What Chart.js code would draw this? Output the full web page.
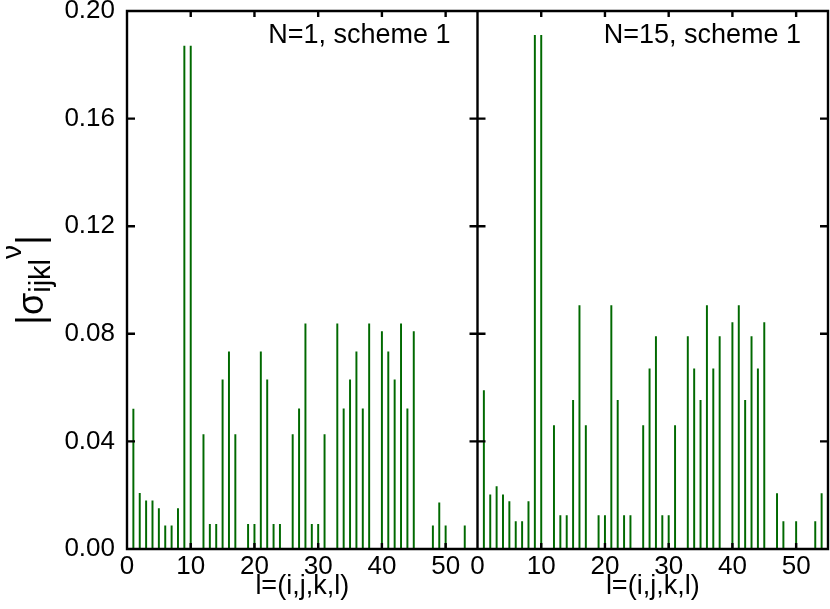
<!DOCTYPE html>
<html>
<head>
<meta charset="utf-8">
<script src="https://cdn.jsdelivr.net/npm/chart.js@4"></script>
<style>
  html, body { margin: 0; padding: 0; background: #fff; }
  canvas { display: block; }
</style>
</head>
<body>
<canvas id="chart" width="830" height="609"></canvas>
<script>
// |sigma_ijkl^nu| per index l=(i,j,k,l), two panels
const leftIdx = [1, 2, 3, 4, 5, 6, 7, 8, 9, 10, 12, 13, 14, 15, 16, 17, 19, 20, 21, 22, 23, 24,
  26, 27, 28, 29, 30, 31, 33, 34, 35, 36, 37, 38, 40, 41, 42, 43, 44, 45, 48, 49, 50, 53];
const leftVal = [0.052, 0.0207, 0.0179, 0.0179, 0.015, 0.0086, 0.0086, 0.015, 0.187, 0.187,
  0.0425, 0.0092, 0.0092, 0.0629, 0.0733, 0.0425,
  0.0092, 0.0092, 0.0733, 0.0629, 0.0092, 0.0092,
  0.0425, 0.0521, 0.0837, 0.0092, 0.0092, 0.0425,
  0.0837, 0.0521, 0.0629, 0.0733, 0.0521, 0.0837,
  0.0808, 0.0733, 0.0629, 0.0837, 0.0521, 0.0808,
  0.0086, 0.0172, 0.0086, 0.0086];

const rightIdx = [1, 2, 3, 4, 5, 6, 7, 8, 9, 10, 12, 13, 14, 15, 16, 17, 19, 20, 21, 22, 23, 24,
  26, 27, 28, 29, 30, 31, 33, 34, 35, 36, 37, 38, 40, 41, 42, 43, 44, 45, 47, 48, 50, 53, 54];
const rightVal = [0.0589, 0.0201, 0.0232, 0.0201, 0.0176, 0.0102, 0.0102, 0.0176, 0.191, 0.191,
  0.0459, 0.0124, 0.0124, 0.0553, 0.0905, 0.0459,
  0.0124, 0.0124, 0.0905, 0.0553, 0.0124, 0.0124,
  0.0459, 0.067, 0.079, 0.0124, 0.0124, 0.0459,
  0.079, 0.067, 0.0553, 0.0905, 0.067, 0.079,
  0.0842, 0.0905, 0.0553, 0.079, 0.067, 0.0842,
  0.0206, 0.0102, 0.0102, 0.0102, 0.0206];

const xTicks = [0, 10, 20, 30, 40, 50];
const yTicks = [0, 0.04, 0.08, 0.12, 0.16, 0.20];
const panelLabels = ["N=1, scheme 1", "N=15, scheme 1"];
const xTitle = "l=(i,j,k,l)";

const FONT = '"Liberation Sans", Arial, Helvetica, sans-serif';
const BAR = "rgb(0,105,0)";

function pairs(xs, ys) {
  return xs.map((x, i) => ({ x, y: ys[i] }));
}

// gnuplot-like box: border round both panels, ticks pointing inward on every side
const framePlugin = {
  id: "frame",
  afterDatasetsDraw(chart) {
    const { ctx, chartArea: a, scales } = chart;
    const xl = scales.xL, xr = scales.xR, y = scales.y;
    const mid = xl.right;
    ctx.save();
    ctx.strokeStyle = "#000";
    ctx.lineWidth = 2.4;
    ctx.beginPath();
    ctx.rect(a.left, a.top, a.right - a.left, a.bottom - a.top);
    ctx.moveTo(mid, a.top);
    ctx.lineTo(mid, a.bottom);
    yTicks.forEach((v) => {
      const py = y.getPixelForValue(v);
      ctx.moveTo(a.left, py); ctx.lineTo(a.left + 8, py);
      ctx.moveTo(mid - 8, py); ctx.lineTo(mid + 8, py);
      ctx.moveTo(a.right - 8, py); ctx.lineTo(a.right, py);
    });
    [xl, xr].forEach((s) => xTicks.forEach((v) => {
      const px = s.getPixelForValue(v);
      ctx.moveTo(px, a.bottom); ctx.lineTo(px, a.bottom - 6);
      ctx.moveTo(px, a.top); ctx.lineTo(px, a.top + 6);
    }));
    ctx.stroke();

    ctx.fillStyle = "#000";
    ctx.font = "27px " + FONT;
    ctx.textAlign = "right";
    ctx.textBaseline = "middle";
    [xl, xr].forEach((s, i) => ctx.fillText(panelLabels[i], s.right - 27, a.top + 25));
    ctx.restore();
  },
};

// rotated y title with sub- and superscript: |σ_ijkl^ν|
const yTitlePlugin = {
  id: "ytitle",
  afterDraw(chart) {
    const { ctx, chartArea: a } = chart;
    const parts = [
      { t: "|", size: 38, dy: 0 },
      { t: "σ", size: 36, dy: 0 },
      { t: "ijkl", size: 29, dy: 7 },
      { t: "ν", size: 28, dy: -22 },
      { t: "|", size: 38, dy: 0 },
    ];
    ctx.save();
    let total = 0;
    parts.forEach((p) => {
      ctx.font = p.size + "px " + FONT;
      p.w = ctx.measureText(p.t).width;
      total += p.w;
    });
    ctx.translate(43, (a.top + a.bottom) / 2);
    ctx.rotate(-Math.PI / 2);
    ctx.fillStyle = "#000";
    ctx.textAlign = "left";
    ctx.textBaseline = "alphabetic";
    let u = -total / 2;
    parts.forEach((p) => {
      ctx.font = p.size + "px " + FONT;
      ctx.fillText(p.t, u, p.dy);
      u += p.w;
    });
    ctx.restore();
  },
};

function xScale() {
  return {
    type: "linear",
    position: "bottom",
    stack: "panels",
    stackWeight: 1,
    min: 0,
    max: 55,
    offset: false,
    grid: { display: false, drawTicks: false },
    border: { display: false },
    afterBuildTicks: (s) => { s.ticks = xTicks.map((v) => ({ value: v })); },
    ticks: { color: "#000", font: { family: FONT, size: 26 }, padding: 2, maxRotation: 0, autoSkip: false },
    title: { display: true, text: xTitle, color: "#000", font: { family: FONT, size: 27 }, padding: { top: 0, bottom: 6 } },
    afterFit: (s) => { s.height = 60; s.paddingLeft = 0; s.paddingRight = 0; },
  };
}

const barStyle = { backgroundColor: BAR, borderWidth: 0, barThickness: 1.3, grouped: false };

new Chart(document.getElementById("chart"), {
  type: "bar",
  data: {
    datasets: [
      { data: pairs(leftIdx, leftVal), xAxisID: "xL", yAxisID: "y", ...barStyle },
      { data: pairs(rightIdx, rightVal), xAxisID: "xR", yAxisID: "y", ...barStyle },
    ],
  },
  options: {
    responsive: false,
    animation: false,
    devicePixelRatio: 1,
    layout: { padding: { top: 11, right: 2, bottom: 0, left: 0 } },
    plugins: { legend: { display: false }, tooltip: { enabled: false }, colors: { enabled: false } },
    scales: {
      xL: xScale(),
      xR: xScale(),
      y: {
        type: "linear",
        position: "left",
        min: 0,
        max: 0.2,
        grid: { display: false, drawTicks: false },
        border: { display: false },
        afterBuildTicks: (s) => { s.ticks = yTicks.map((v) => ({ value: v })); },
        ticks: { color: "#000", font: { family: FONT, size: 26 }, padding: 12, callback: (v) => v.toFixed(2) },
        afterFit: (s) => { s.width = 127; s.paddingTop = 0; s.paddingBottom = 0; },
      },
    },
  },
  plugins: [framePlugin, yTitlePlugin],
});
</script>
</body>
</html>
